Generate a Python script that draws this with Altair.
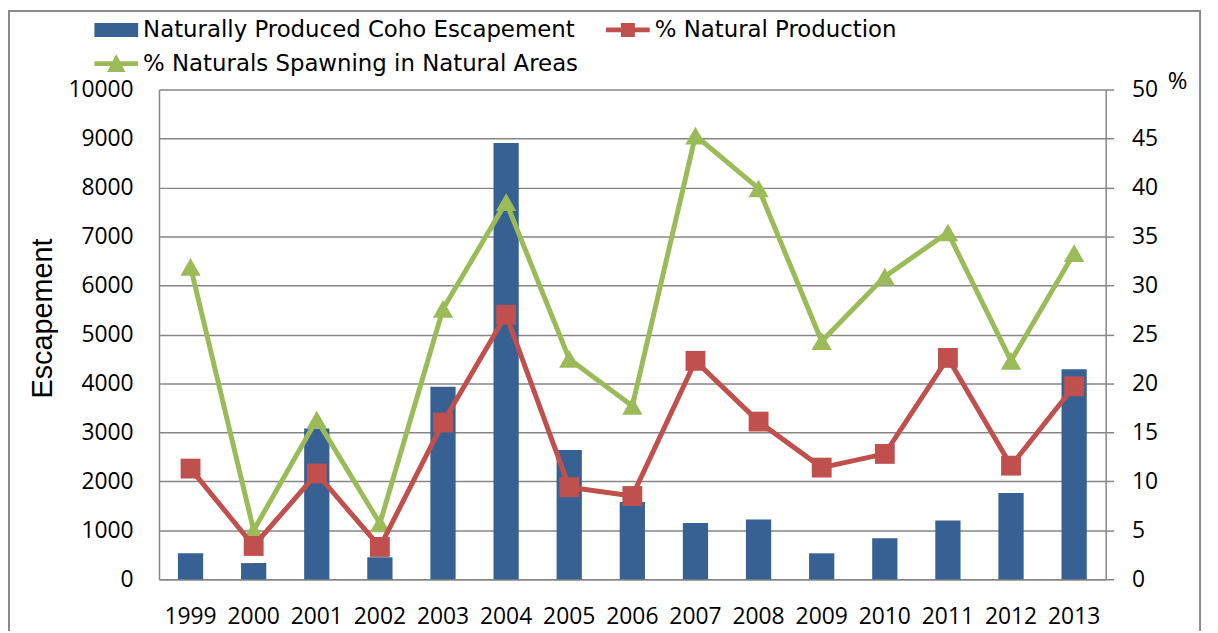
import altair as alt
import pandas as pd

years = [str(y) for y in range(1999, 2014)]
escapement = [530, 330, 3080, 450, 3930, 8910, 2640, 1580, 1150, 1220, 530, 840, 1200, 1760, 4290]
natural_production = [11.3, 3.4, 10.8, 3.3, 16.0, 27.0, 9.4, 8.5, 22.3, 16.1, 11.4, 12.8, 22.6, 11.6, 19.7]
naturals_spawning = [31.9, 5.0, 16.3, 5.7, 27.6, 38.5, 22.5, 17.7, 45.3, 39.9, 24.3, 30.9, 35.4, 22.3, 33.3]

series_names = ["Naturally Produced Coho Escapement", "% Natural Production",
                "% Naturals Spawning in Natural Areas"]
left_ticks = list(range(0, 10001, 1000))
right_ticks = list(range(0, 51, 5))

BLUE = "#386193"
RED = "#C0504D"
GREEN = "#9BBB59"
GRAY = "#868686"
FONT = "Open Sans"
LEGEND_FONT = "DejaVu Sans"

df = pd.DataFrame({"year": years, "escapement": escapement,
                   "natural_production": natural_production,
                   "naturals_spawning": naturals_spawning})

x_enc = alt.X("year:N", title=None,
              scale=alt.Scale(paddingInner=0.6, paddingOuter=0.3),
              axis=alt.Axis(labelAngle=0, ticks=False, grid=False, domainColor=GRAY,
                            domainWidth=1.5, labelFont=FONT, labelFontSize=23,
                            labelColor="black", labelPadding=27))

base = alt.Chart(df)

bars = base.mark_bar(color=BLUE).encode(
    x=x_enc,
    y=alt.Y("escapement:Q", scale=alt.Scale(domain=[0, 10000], nice=False),
            axis=alt.Axis(values=left_ticks, format="d", title="Escapement",
                          titleFont="Liberation Sans",
                          titleFontSize=29, titleFontWeight="normal", titleColor="black",
                          titleX=-117, titleY=230, titleAlign="center", titleBaseline="middle",
                          labelFont=FONT, labelFontSize=23, labelColor="black",
                          labelPadding=26, ticks=False, domainColor=GRAY, domainWidth=1.5,
                          grid=True, gridColor=GRAY, gridWidth=1.5, gridOpacity=1))
)

right_axis = alt.Axis(orient="right", values=right_ticks, format="d", title="%", titleAngle=0,
                      titleX=72, titleY=-8, titleAlign="center", titleBaseline="middle",
                      titleFont=FONT, titleFontSize=24, titleFontWeight="normal",
                      titleColor="black", labelFont=FONT, labelFontSize=23,
                      labelColor="black", labelPadding=18, ticks=True, tickSize=8,
                      tickColor=GRAY, tickWidth=1.5, domainColor=GRAY, domainWidth=1.5,
                      grid=False)
pct_scale = alt.Scale(domain=[0, 50], nice=False)

red_line = base.mark_line(color=RED, strokeWidth=5,
                          point=alt.OverlayMarkDef(shape="square", size=400, filled=True,
                                                   color=RED, opacity=1)).encode(
    x="year:N",
    y=alt.Y("natural_production:Q", scale=pct_scale, axis=right_axis)
)
green_line = base.mark_line(color=GREEN, strokeWidth=5,
                            point=alt.OverlayMarkDef(shape="triangle-up", size=420, filled=True,
                                                     color=GREEN, opacity=1)).encode(
    x="year:N",
    y=alt.Y("naturals_spawning:Q", scale=pct_scale, axis=right_axis)
)
pct_layer = alt.layer(green_line, red_line)

path_bar = "M-1,-0.32H1V0.32H-1Z"
path_red = "M-1,-0.11H1V0.11H-1Z M-0.32,-0.32H0.32V0.32H-0.32Z"
path_green = "M-1,-0.11H1V0.11H-1Z M0,-0.44L0.42,0.38H-0.42Z"

legend_cfg = dict(orient="none", legendX=-65, legendY=-82, columns=2, direction="horizontal",
                  title=None, symbolSize=1936, symbolStrokeWidth=0, symbolOpacity=1,
                  labelFont=LEGEND_FONT, labelFontSize=23, labelColor="black", labelOffset=5,
                  labelLimit=0, columnPadding=27, rowPadding=-11, padding=0)

legend_layer = alt.Chart(pd.DataFrame({"series": series_names})).mark_point(filled=True).encode(
    color=alt.Color("series:N", scale=alt.Scale(domain=series_names, range=[BLUE, RED, GREEN]),
                    legend=alt.Legend(**legend_cfg)),
    shape=alt.Shape("series:N", scale=alt.Scale(domain=series_names,
                                                range=[path_bar, path_red, path_green]),
                    legend=alt.Legend(**legend_cfg)),
).transform_filter("false")

frame = alt.Chart(pd.DataFrame({"f": [0]})).mark_rect(fill=None, stroke="#8a8a8a",
                                                       strokeWidth=2).encode(
    x=alt.value(-151), x2=alt.value(1048), y=alt.value(-79), y2=alt.value(600)
)

chart = alt.layer(frame, bars, pct_layer, legend_layer).resolve_scale(
    y="independent"
).properties(
    width=953, height=493,
    autosize=alt.AutoSizeParams(type="none"),
    padding={"left": 152, "top": 80, "right": 105, "bottom": 50},
).configure_view(strokeWidth=0)

chart.save("out.html", embed_options={"renderer": "svg", "actions": False})
